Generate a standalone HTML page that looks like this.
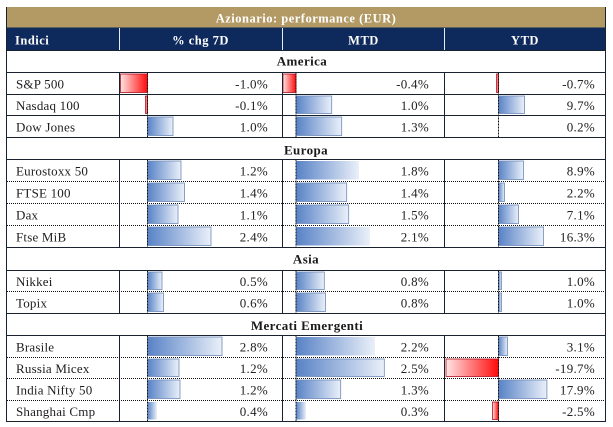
<!DOCTYPE html>
<html><head><meta charset="utf-8"><style>
html,body{margin:0;padding:0;background:#fff;}
svg{display:block;}
text{font-family:"Liberation Serif",serif;}
.n{font-size:13px;fill:#1e1e1e;letter-spacing:0.2px;}
.v{font-size:13px;fill:#222;text-anchor:end;letter-spacing:0.3px;}
.s{font-size:13px;font-weight:bold;fill:#1a1a1a;text-anchor:middle;letter-spacing:0.4px;}
.h{font-size:12.5px;font-weight:bold;fill:#fff;letter-spacing:0.5px;}
</style></head><body>
<svg width="613" height="427" viewBox="0 0 613 427" xmlns="http://www.w3.org/2000/svg">
<defs>
<linearGradient id="b" x1="0" x2="1" y1="0" y2="0"><stop offset="0" stop-color="#5882c6"/><stop offset="1" stop-color="#eaf0f9"/></linearGradient>
<linearGradient id="r" x1="0" x2="1" y1="0" y2="0"><stop offset="0" stop-color="#ffe4e4"/><stop offset="1" stop-color="#ff0a0a"/></linearGradient>
</defs>
<rect x="0" y="0" width="613" height="427" fill="#fff"/>
<!-- title & header -->
<rect x="6" y="7" width="600" height="20.5" fill="#b39a64"/>
<rect x="6" y="27.5" width="600" height="23" fill="#0e2a5c"/>
<text class="h" x="306" y="22.5" text-anchor="middle" fill="#fbf6ea">Azionario: performance (EUR)</text>
<text class="h" x="15" y="44.3">Indici</text>
<text class="h" x="200.5" y="44.3" text-anchor="middle">% chg 7D</text>
<text class="h" x="363.5" y="44.3" text-anchor="middle">MTD</text>
<text class="h" x="525" y="44.3" text-anchor="middle">YTD</text>
<g stroke="#e8ecf4" stroke-width="1">
<line x1="119.5" y1="28" x2="119.5" y2="50"/>
<line x1="282.5" y1="28" x2="282.5" y2="50"/>
<line x1="444.5" y1="28" x2="444.5" y2="50"/>
</g>

<!-- bars 7D -->
<g stroke="#6f8bb8" stroke-width="0.8" fill="url(#b)">
<rect x="147.5" y="117" width="25.5" height="18.5"/>
<rect x="147.5" y="161" width="33.5" height="18.5"/>
<rect x="147.5" y="183" width="37" height="18.5"/>
<rect x="147.5" y="205" width="30.5" height="18.5"/>
<rect x="147.5" y="227" width="63.5" height="18.5"/>
<rect x="147.5" y="272" width="14.5" height="17.5"/>
<rect x="147.5" y="293" width="16" height="18.5"/>
<rect x="147.5" y="337" width="74.5" height="18.5"/>
<rect x="147.5" y="359" width="31.5" height="17.5"/>
<rect x="147.5" y="380" width="32.5" height="18.5"/>
<rect x="147.5" y="402" width="9.5" height="17.5" stroke="none"/>
<!-- MTD -->
<rect x="296" y="96" width="35.7" height="17.5"/>
<rect x="296" y="117" width="45.7" height="18.5"/>
<rect x="296" y="161" width="63" height="18.5" stroke="none"/>
<rect x="296" y="183" width="50.7" height="18.5"/>
<rect x="296" y="205" width="52.7" height="18.5"/>
<rect x="296" y="227" width="74" height="18.5" stroke="none"/>
<rect x="296" y="272" width="28.3" height="17.5"/>
<rect x="296" y="293" width="29.5" height="18.5"/>
<rect x="296" y="337" width="79" height="18.5" stroke="none"/>
<rect x="296" y="359" width="88.3" height="17.5"/>
<rect x="296" y="380" width="44.7" height="18.5"/>
<rect x="296" y="402" width="10" height="17.5" stroke="none"/>
<!-- YTD -->
<rect x="498.5" y="96" width="26" height="17.5"/>
<rect x="498.5" y="161" width="25" height="18.5"/>
<rect x="498.5" y="183" width="6" height="18.5"/>
<rect x="498.5" y="205" width="20" height="18.5"/>
<rect x="498.5" y="227" width="45" height="18.5"/>
<rect x="498.5" y="272" width="3" height="17.5"/>
<rect x="498.5" y="293" width="3" height="18.5"/>
<rect x="498.5" y="337" width="9" height="18.5"/>
<rect x="498.5" y="380" width="48.4" height="18.5"/>
</g>
<g stroke="#b01020" stroke-width="0.8" fill="url(#r)">
<rect x="120.5" y="74" width="27" height="18.5"/>
<rect x="145.5" y="96" width="2" height="17.5"/>
<rect x="283" y="74" width="13" height="18.5"/>
<rect x="496.5" y="74" width="2" height="18.5"/>
<rect x="446" y="359" width="52.5" height="17.5"/>
<rect x="492.5" y="402" width="6" height="17.5"/>
</g>

<!-- dashed axes -->
<g stroke="#111" stroke-width="1" stroke-dasharray="2 1">
<line x1="147.5" y1="72.5" x2="147.5" y2="137.5"/>
<line x1="147.5" y1="159.5" x2="147.5" y2="247.5"/>
<line x1="147.5" y1="270.5" x2="147.5" y2="313.5"/>
<line x1="147.5" y1="335.5" x2="147.5" y2="421.5"/>
<line x1="296" y1="72.5" x2="296" y2="137.5"/>
<line x1="296" y1="159.5" x2="296" y2="247.5"/>
<line x1="296" y1="270.5" x2="296" y2="313.5"/>
<line x1="296" y1="335.5" x2="296" y2="421.5"/>
<line x1="498.5" y1="72.5" x2="498.5" y2="137.5"/>
<line x1="498.5" y1="159.5" x2="498.5" y2="247.5"/>
<line x1="498.5" y1="270.5" x2="498.5" y2="313.5"/>
<line x1="498.5" y1="335.5" x2="498.5" y2="421.5"/>
</g>

<!-- solid horizontal lines -->
<g stroke="#17222e" stroke-width="1">
<line x1="6" y1="50.5" x2="606" y2="50.5"/>
<line x1="6" y1="72.5" x2="606" y2="72.5"/>
<line x1="6" y1="94.5" x2="606" y2="94.5"/>
<line x1="6" y1="115.5" x2="606" y2="115.5"/>
<line x1="6" y1="137.5" x2="606" y2="137.5"/>
<line x1="6" y1="159.5" x2="606" y2="159.5"/>
<line x1="6" y1="247.5" x2="606" y2="247.5"/>
<line x1="6" y1="270.5" x2="606" y2="270.5"/>
<line x1="6" y1="313.5" x2="606" y2="313.5"/>
<line x1="6" y1="335.5" x2="606" y2="335.5"/>
<line x1="6" y1="421.5" x2="606" y2="421.5"/>
<!-- outer verticals -->
<line x1="6.5" y1="7" x2="6.5" y2="422"/>
<line x1="605.5" y1="7" x2="605.5" y2="422"/>
<!-- column verticals in data segments -->
<line x1="119.5" y1="72.5" x2="119.5" y2="137.5"/>
<line x1="119.5" y1="159.5" x2="119.5" y2="247.5"/>
<line x1="119.5" y1="270.5" x2="119.5" y2="313.5"/>
<line x1="119.5" y1="335.5" x2="119.5" y2="421.5"/>
<line x1="282.5" y1="72.5" x2="282.5" y2="137.5"/>
<line x1="282.5" y1="159.5" x2="282.5" y2="247.5"/>
<line x1="282.5" y1="270.5" x2="282.5" y2="313.5"/>
<line x1="282.5" y1="335.5" x2="282.5" y2="421.5"/>
<line x1="444.5" y1="72.5" x2="444.5" y2="137.5"/>
<line x1="444.5" y1="159.5" x2="444.5" y2="247.5"/>
<line x1="444.5" y1="270.5" x2="444.5" y2="313.5"/>
<line x1="444.5" y1="335.5" x2="444.5" y2="421.5"/>
</g>
<!-- dotted horizontal lines -->
<g stroke="#111" stroke-width="1" stroke-dasharray="1 1">
<line x1="7" y1="181.5" x2="605" y2="181.5"/>
<line x1="7" y1="203.5" x2="605" y2="203.5"/>
<line x1="7" y1="225.5" x2="605" y2="225.5"/>
<line x1="7" y1="291.5" x2="605" y2="291.5"/>
<line x1="7" y1="357.5" x2="605" y2="357.5"/>
<line x1="7" y1="378.5" x2="605" y2="378.5"/>
<line x1="7" y1="400.5" x2="605" y2="400.5"/>
</g>

<!-- section labels -->
<text class="s" x="302" y="65.5">America</text>
<text class="s" x="306" y="154.5">Europa</text>
<text class="s" x="306" y="263.5">Asia</text>
<text class="s" x="307" y="330">Mercati Emergenti</text>

<!-- names -->
<text class="n" x="16" y="88.5">S&amp;P 500</text>
<text class="n" x="16" y="110">Nasdaq 100</text>
<text class="n" x="16" y="131.5">Dow Jones</text>
<text class="n" x="16" y="175.5">Eurostoxx 50</text>
<text class="n" x="16" y="197.5">FTSE 100</text>
<text class="n" x="16" y="219.5">Dax</text>
<text class="n" x="16" y="241.5">Ftse MiB</text>
<text class="n" x="16" y="286">Nikkei</text>
<text class="n" x="16" y="307.5">Topix</text>
<text class="n" x="16" y="351.5">Brasile</text>
<text class="n" x="16" y="373">Russia Micex</text>
<text class="n" x="16" y="394.5">India Nifty 50</text>
<text class="n" x="16" y="416">Shanghai Cmp</text>

<!-- 7D values -->
<text class="v" x="268" y="88.5">-1.0%</text>
<text class="v" x="268" y="110">-0.1%</text>
<text class="v" x="268" y="131.5">1.0%</text>
<text class="v" x="268" y="175.5">1.2%</text>
<text class="v" x="268" y="197.5">1.4%</text>
<text class="v" x="268" y="219.5">1.1%</text>
<text class="v" x="268" y="241.5">2.4%</text>
<text class="v" x="268" y="286">0.5%</text>
<text class="v" x="268" y="307.5">0.6%</text>
<text class="v" x="268" y="351.5">2.8%</text>
<text class="v" x="268" y="373">1.2%</text>
<text class="v" x="268" y="394.5">1.2%</text>
<text class="v" x="268" y="416">0.4%</text>
<!-- MTD values -->
<text class="v" x="429" y="88.5">-0.4%</text>
<text class="v" x="429" y="110">1.0%</text>
<text class="v" x="429" y="131.5">1.3%</text>
<text class="v" x="429" y="175.5">1.8%</text>
<text class="v" x="429" y="197.5">1.4%</text>
<text class="v" x="429" y="219.5">1.5%</text>
<text class="v" x="429" y="241.5">2.1%</text>
<text class="v" x="429" y="286">0.8%</text>
<text class="v" x="429" y="307.5">0.8%</text>
<text class="v" x="429" y="351.5">2.2%</text>
<text class="v" x="429" y="373">2.5%</text>
<text class="v" x="429" y="394.5">1.3%</text>
<text class="v" x="429" y="416">0.3%</text>
<!-- YTD values -->
<text class="v" x="595" y="88.5">-0.7%</text>
<text class="v" x="595" y="110">9.7%</text>
<text class="v" x="595" y="131.5">0.2%</text>
<text class="v" x="595" y="175.5">8.9%</text>
<text class="v" x="595" y="197.5">2.2%</text>
<text class="v" x="595" y="219.5">7.1%</text>
<text class="v" x="595" y="241.5">16.3%</text>
<text class="v" x="595" y="286">1.0%</text>
<text class="v" x="595" y="307.5">1.0%</text>
<text class="v" x="595" y="351.5">3.1%</text>
<text class="v" x="595" y="373">-19.7%</text>
<text class="v" x="595" y="394.5">17.9%</text>
<text class="v" x="595" y="416">-2.5%</text>
</svg>
</body></html>
